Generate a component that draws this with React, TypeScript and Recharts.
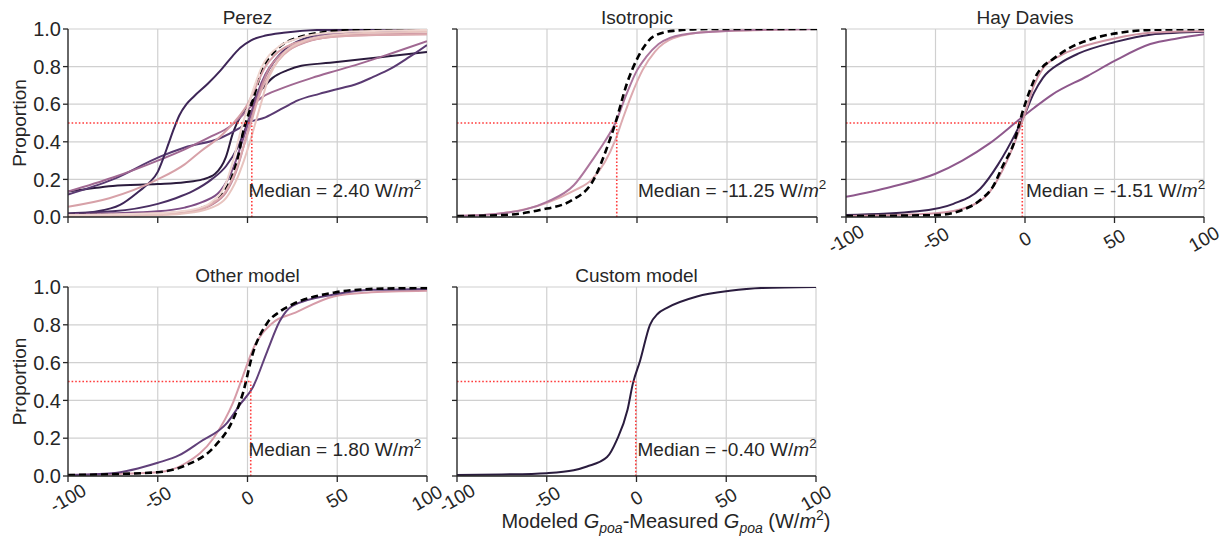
import React from "react";
import { LineChart, Line, XAxis, YAxis, CartesianGrid, ReferenceLine, ReferenceDot } from "recharts";

const TEXT = "#262626";
const FONT = '"Liberation Sans", Arial, sans-serif';

const xTicks = [-100, -50, 0, 50, 100];
const yTicks = [0, 0.2, 0.4, 0.6, 0.8, 1.0];
const titles = ["Perez", "Isotropic", "Hay Davies", "Other model", "Custom model"];
const medians = [2.4, -11.25, -1.51, 1.8, -0.4];

// Perez
const perezRef = [[-100, 0.01], [-75, 0.01], [-50, 0.015], [-35, 0.025], [-25, 0.05], [-17, 0.09], [-12, 0.15], [-8, 0.23], [-5, 0.33], [-2.5, 0.45], [0, 0.53], [3, 0.62], [6, 0.72], [9, 0.8], [14, 0.87], [20, 0.92], [30, 0.96], [40, 0.98], [60, 0.995], [100, 1.0]];
const perezA = [[-100, 0.015], [-86, 0.027], [-71, 0.064], [-60, 0.14], [-55, 0.18], [-50, 0.24], [-47, 0.31], [-44, 0.39], [-41, 0.47], [-38, 0.54], [-34, 0.6], [-30, 0.64], [-22, 0.71], [-15, 0.78], [-8, 0.86], [-4, 0.9], [2, 0.94], [10, 0.965], [20, 0.98], [40, 0.995], [100, 1.0]];
const perezB = [[-100, 0.135], [-75, 0.165], [-50, 0.175], [-35, 0.185], [-25, 0.2], [-18, 0.23], [-12, 0.32], [-8, 0.45], [-3, 0.55], [3, 0.62], [8, 0.68], [14, 0.74], [22, 0.78], [30, 0.805], [46, 0.82], [74, 0.85], [100, 0.878]];
const perezD = [[-100, 0.12], [-75, 0.2], [-49, 0.32], [-35, 0.37], [-15, 0.42], [-5, 0.47], [0, 0.5], [10, 0.53], [20, 0.58], [28, 0.62], [40, 0.655], [52, 0.685], [60, 0.705], [70, 0.745], [80, 0.79], [90, 0.85], [100, 0.915]];
const perezE = [[-100, 0.135], [-75, 0.21], [-50, 0.3], [-35, 0.36], [-20, 0.43], [-10, 0.48], [-4, 0.53], [0, 0.57], [8.6, 0.64], [18, 0.68], [36, 0.74], [50, 0.78], [64, 0.82], [80, 0.87], [100, 0.935]];
const perezF = [[-100, 0.055], [-77, 0.1], [-50, 0.2], [-35, 0.28], [-26, 0.35], [-15, 0.43], [-6, 0.52], [0, 0.6], [5, 0.7], [10, 0.8], [15, 0.86], [25, 0.92], [40, 0.95], [60, 0.965], [100, 0.972]];
const perezH = [[-100, 0.02], [-75, 0.03], [-50, 0.07], [-40, 0.1], [-30, 0.14], [-20, 0.2], [-12, 0.27], [-5, 0.38], [0, 0.5], [5, 0.63], [10, 0.75], [15, 0.83], [22, 0.9], [35, 0.96], [55, 0.99], [100, 1.0]];
const perezI = [[-100, 0.015], [-75, 0.02], [-50, 0.03], [-35, 0.05], [-25, 0.08], [-15, 0.14], [-8, 0.26], [-3, 0.4], [2, 0.55], [6, 0.67], [10, 0.76], [15, 0.83], [22, 0.89], [35, 0.95], [55, 0.98], [100, 0.99]];
const perezJ = [[-100, 0.005], [-50, 0.01], [-30, 0.025], [-20, 0.05], [-12, 0.1], [-6, 0.2], [-2, 0.3], [2, 0.42], [5, 0.52], [8, 0.62], [11, 0.72], [15, 0.8], [20, 0.87], [30, 0.93], [45, 0.965], [70, 0.98], [100, 0.985]];
const perezK = [[-100, 0.005], [-50, 0.012], [-30, 0.03], [-20, 0.07], [-12, 0.14], [-6, 0.26], [-2, 0.38], [2, 0.5], [5, 0.6], [8, 0.68], [12, 0.76], [17, 0.83], [25, 0.9], [35, 0.94], [50, 0.96], [75, 0.97], [100, 0.972]];
const perezL = [[-100, 0.01], [-50, 0.02], [-30, 0.04], [-20, 0.08], [-12, 0.18], [-8, 0.3], [-4, 0.45], [0, 0.58], [4, 0.7], [8, 0.8], [12, 0.86], [18, 0.91], [28, 0.95], [45, 0.98], [70, 0.99], [100, 0.995]];
const perezM = [[-100, 0.01], [-50, 0.02], [-30, 0.035], [-20, 0.065], [-12, 0.13], [-6, 0.25], [0, 0.45], [4, 0.58], [8, 0.7], [12, 0.79], [17, 0.85], [25, 0.9], [40, 0.95], [60, 0.97], [100, 0.975]];

// Isotropic
const isoRef = [[-100, 0.005], [-75, 0.01], [-54, 0.037], [-36, 0.09], [-24, 0.2], [-17, 0.36], [-12, 0.5], [-5.6, 0.71], [0, 0.84], [5, 0.92], [9, 0.96], [20, 0.99], [40, 1.0], [100, 1.0]];
const isoPurple = [[-100, 0.005], [-75, 0.02], [-50, 0.08], [-35, 0.17], [-25, 0.3], [-18, 0.4], [-12, 0.5], [-6, 0.65], [0, 0.78], [5, 0.85], [12, 0.92], [25, 0.97], [50, 0.99], [100, 1.0]];
const isoPink = [[-100, 0.005], [-75, 0.02], [-50, 0.075], [-35, 0.14], [-25, 0.2], [-18, 0.29], [-12, 0.41], [-8, 0.52], [-3, 0.65], [3, 0.78], [10, 0.88], [20, 0.95], [40, 0.985], [100, 1.0]];

// Hay Davies
const hayRef = [[-100, 0.005], [-50, 0.01], [-35, 0.037], [-25, 0.09], [-18, 0.16], [-12, 0.28], [-6.7, 0.38], [-1, 0.57], [3, 0.68], [6.7, 0.76], [10, 0.8], [15.6, 0.84], [25, 0.9], [35, 0.94], [53, 0.98], [70, 0.995], [100, 1.0]];
const hayDark = [[-100, 0.01], [-60, 0.03], [-40, 0.07], [-25, 0.15], [-15, 0.28], [-5, 0.45], [0, 0.55], [5, 0.66], [10, 0.74], [20, 0.82], [30, 0.87], [50, 0.93], [70, 0.97], [100, 0.985]];
const hayPink = [[-100, 0.005], [-50, 0.02], [-30, 0.06], [-20, 0.13], [-10, 0.3], [0, 0.55], [5, 0.7], [10, 0.79], [20, 0.86], [30, 0.9], [50, 0.95], [70, 0.98], [100, 0.99]];
const hayPurple = [[-100, 0.107], [-75, 0.16], [-50, 0.23], [-35, 0.3], [-20, 0.39], [-3, 0.52], [5, 0.58], [15, 0.65], [35, 0.75], [50, 0.83], [70, 0.92], [85, 0.95], [100, 0.972]];

// Other model
const otherRef = [[-100, 0.005], [-75, 0.01], [-50, 0.02], [-34, 0.058], [-19, 0.15], [-8, 0.3], [-2.5, 0.44], [3, 0.65], [11, 0.81], [18, 0.87], [25.5, 0.91], [48, 0.97], [70, 0.99], [100, 0.995]];
const otherDark = [[-100, 0.005], [-75, 0.015], [-50, 0.07], [-38, 0.11], [-26.5, 0.18], [-11.5, 0.28], [-4, 0.38], [3, 0.47], [11, 0.66], [18, 0.82], [25, 0.9], [48, 0.96], [70, 0.985], [100, 0.99]];
const otherPink = [[-100, 0.005], [-50, 0.02], [-34, 0.07], [-19, 0.2], [-8, 0.39], [-2.5, 0.53], [3, 0.67], [14, 0.81], [25.5, 0.86], [48, 0.95], [66, 0.97], [100, 0.98]];

// Custom model
const customLine = [[-100, 0.005], [-75, 0.008], [-50, 0.015], [-35, 0.03], [-27.6, 0.05], [-16.4, 0.1], [-11, 0.19], [-5, 0.35], [-2, 0.49], [2, 0.61], [7.5, 0.8], [12, 0.86], [17, 0.89], [33.7, 0.95], [52, 0.98], [70, 0.995], [100, 1.0]];

type Series = { pts: number[][]; color: string; dashed?: boolean; width?: number };

const toXY = (pts: number[][]) => pts.map(([x, y]) => ({ x, y }));

const XTick = (props: any) => {
  const { x, y, payload } = props;
  return (
    <g transform={`translate(${x},${y + 14}) rotate(-30)`}>
      <text textAnchor="middle" dominantBaseline="central" fill={TEXT} fontSize={19} fontFamily={FONT}>
        {payload.value}
      </text>
    </g>
  );
};

// keeps tick marks and grid, draws no label
const NoTick = () => <g />;

const MedianText = ({ cx, cy, value }: any) => (
  <text x={cx + 1} y={cy} fill={TEXT} fontSize={19} fontFamily={FONT}>
    Median = {value.toFixed(2)} W/<tspan fontStyle="italic">m</tspan>
    <tspan dy={-8} fontSize={13.5}>2</tspan>
  </text>
);

function Panel({ idx, series, px0, py0, w, h, yLabels, xLabels }: any) {
  const median = medians[idx];
  const H = 29 + h + 50;
  return (
    <>
      <div
        style={{
          position: "absolute",
          left: px0,
          top: py0 - 21,
          width: w,
          textAlign: "center",
          fontFamily: FONT,
          fontSize: 19,
          lineHeight: "19px",
          color: TEXT,
        }}
      >
        {titles[idx]}
      </div>
      <div style={{ position: "absolute", left: px0 - 68, top: py0 - 29 }}>
        <LineChart width={68 + w + 22} height={H} margin={{ top: 29, right: 22, bottom: 0, left: 0 }}>
          <CartesianGrid stroke="#d0d0d0" strokeWidth={1.2} />
          <XAxis
            type="number"
            dataKey="x"
            domain={[-100, 100]}
            ticks={xTicks}
            allowDataOverflow
            height={50}
            tickSize={6}
            axisLine={{ stroke: TEXT, strokeWidth: 1.3 }}
            tickLine={{ stroke: TEXT, strokeWidth: 1.3 }}
            tick={xLabels ? <XTick /> : <NoTick />}
          />
          <YAxis
            type="number"
            dataKey="y"
            domain={[0, 1]}
            ticks={yTicks}
            allowDataOverflow
            width={68}
            tickSize={5}
            tickMargin={2}
            axisLine={{ stroke: TEXT, strokeWidth: 1.3 }}
            tickLine={{ stroke: TEXT, strokeWidth: 1.3 }}
            tick={yLabels ? { fill: TEXT, fontSize: 20, fontFamily: FONT } : <NoTick />}
            tickFormatter={(v: number) => v.toFixed(1)}
            label={
              yLabels
                ? {
                    content: () => (
                      <text
                        x={19}
                        y={29 + h / 2}
                        transform={`rotate(-90 19 ${29 + h / 2})`}
                        textAnchor="middle"
                        dominantBaseline="central"
                        fill={TEXT}
                        fontSize={19}
                        fontFamily={FONT}
                      >
                        Proportion
                      </text>
                    ),
                  }
                : undefined
            }
          />
          {series.map((s: Series, i: number) => (
            <Line
              key={i}
              data={toXY(s.pts)}
              dataKey="y"
              type="monotone"
              stroke={s.color}
              strokeWidth={s.width ?? 2}
              strokeDasharray={s.dashed ? "7 4" : undefined}
              dot={false}
              activeDot={false}
              isAnimationActive={false}
            />
          ))}
          <ReferenceLine
            segment={[{ x: -100, y: 0.5 }, { x: median, y: 0.5 }]}
            stroke="#ff3b3b"
            strokeWidth={1.6}
            strokeDasharray="1.6 2"
          />
          <ReferenceLine
            segment={[{ x: median, y: 0 }, { x: median, y: 0.5 }]}
            stroke="#ff3b3b"
            strokeWidth={1.6}
            strokeDasharray="1.6 2"
          />
          <ReferenceDot x={0} y={0.105} r={0} shape={(p: any) => <MedianText cx={p.cx} cy={p.cy} value={median} />} />
        </LineChart>
      </div>
    </>
  );
}

const perezSeries: Series[] = [
  { pts: perezB, color: "#2b1b3d" },
  { pts: perezD, color: "#5a3a72" },
  { pts: perezE, color: "#a06892" },
  { pts: perezA, color: "#3e2658" },
  { pts: perezH, color: "#4a2f63" },
  { pts: perezI, color: "#7d4d85" },
  { pts: perezRef, color: "#000000", dashed: true, width: 2.6 },
  { pts: perezF, color: "#d7a1a8" },
  { pts: perezM, color: "#c48a9c" },
  { pts: perezK, color: "#dcaaae" },
  { pts: perezJ, color: "#e8c4bf" },
  { pts: perezL, color: "#efd5cf" },
];
const isoSeries: Series[] = [
  { pts: isoPink, color: "#ddaab0" },
  { pts: isoPurple, color: "#ad769d" },
  { pts: isoRef, color: "#000000", dashed: true, width: 2.6 },
];
const haySeries: Series[] = [
  { pts: hayPurple, color: "#8e588c" },
  { pts: hayDark, color: "#3a2450" },
  { pts: hayPink, color: "#cf94a3" },
  { pts: hayRef, color: "#000000", dashed: true, width: 2.6 },
];
const otherSeries: Series[] = [
  { pts: otherPink, color: "#d69ba8" },
  { pts: otherDark, color: "#61407a" },
  { pts: otherRef, color: "#000000", dashed: true, width: 2.6 },
];
const customSeries: Series[] = [{ pts: customLine, color: "#2a1c3e" }];

export default function App() {
  return (
    <div style={{ position: "absolute", left: 0, top: 0, width: 1223, height: 539, background: "#fff", overflow: "hidden" }}>
      <Panel idx={0} series={perezSeries} px0={68} py0={29} w={359} h={188} yLabels xLabels={false} />
      <Panel idx={1} series={isoSeries} px0={457} py0={29} w={360} h={188} yLabels={false} xLabels={false} />
      <Panel idx={2} series={haySeries} px0={846} py0={29} w={358} h={188} yLabels={false} xLabels />
      <Panel idx={3} series={otherSeries} px0={68} py0={287} w={359} h={189} yLabels xLabels />
      <Panel idx={4} series={customSeries} px0={457} py0={287} w={359} h={189} yLabels={false} xLabels />
      <div
        style={{
          position: "absolute",
          left: 446,
          width: 440,
          top: 511,
          textAlign: "center",
          fontFamily: FONT,
          fontSize: 20,
          lineHeight: "20px",
          color: TEXT,
          whiteSpace: "nowrap",
        }}
      >
        Modeled <i>G</i>
        <sub style={{ fontSize: 14, lineHeight: 0 }}>
          <i>poa</i>
        </sub>
        -Measured <i>G</i>
        <sub style={{ fontSize: 14, lineHeight: 0 }}>
          <i>poa</i>
        </sub>{" "}
        (W/<i>m</i>
        <sup style={{ fontSize: 14, lineHeight: 0 }}>2</sup>)
      </div>
    </div>
  );
}
